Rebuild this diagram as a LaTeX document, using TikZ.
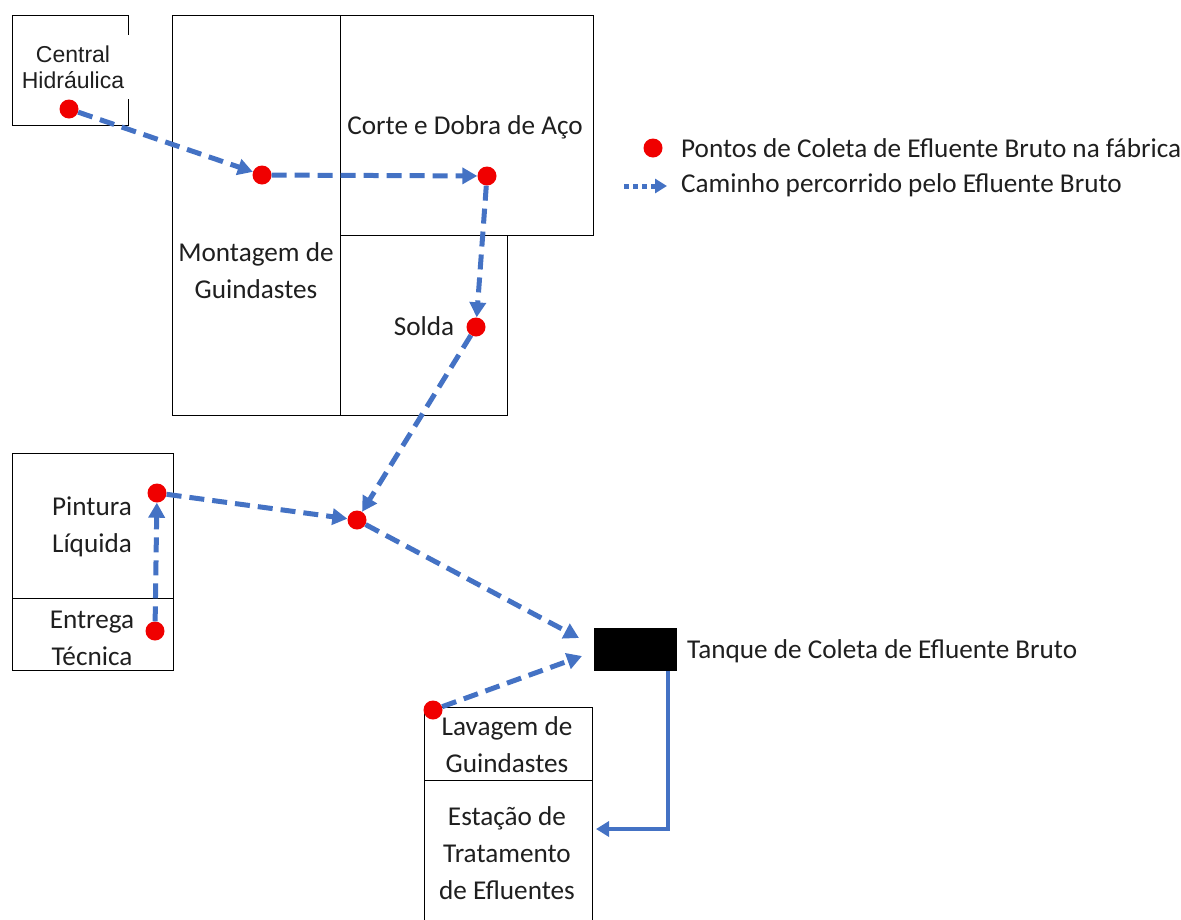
\documentclass[tikz,border=0pt]{standalone}
\usepackage{fontspec}
\setmainfont{Carlito}
\newfontfamily\arialfont{Liberation Sans}
\usetikzlibrary{arrows.meta}
\definecolor{flowblue}{RGB}{68,114,196}
\definecolor{dotred}{RGB}{240,0,0}

\begin{document}
\begin{tikzpicture}[x=1pt,y=-1pt,
  room/.style={draw=black,line width=1.4pt,anchor=north west,inner sep=0pt},
  lbl/.style={font=\fontsize{27.2}{37}\selectfont,align=center,inner sep=0pt,text=black!88},
  pt/.style={circle,fill=dotred,minimum size=19pt,inner sep=0pt},
  flow/.style={draw=flowblue,line width=5pt,dash pattern=on 15pt off 8pt,
    -{Triangle[length=15pt,width=16pt]}},
  pipe/.style={draw=flowblue,line width=4pt,-{Triangle[length=13pt,width=15pt]}}]

\useasboundingbox (0,0) rectangle (1181,919);
\clip (0,0) rectangle (1181,919);

% rooms of the plant
\node[room,minimum width=116pt,minimum height=110pt] (central) at (12,15) {};
\node[room,minimum width=168pt,minimum height=400pt] (montagem) at (172,15) {};
\node[room,minimum width=253pt,minimum height=220pt] (corte) at (340,15) {};
\node[room,minimum width=167pt,minimum height=180pt] (solda) at (340,235) {};
\node[room,minimum width=161pt,minimum height=145pt] (pintura) at (12,453) {};
\node[room,minimum width=161pt,minimum height=72pt] (entrega) at (12,598) {};
\node[room,minimum width=168pt,minimum height=73pt] (lavagem) at (424,707) {};
\node[room,minimum width=168pt,minimum height=170pt] (estacao) at (424,780) {};

% room names
\node[font=\arialfont\fontsize{23}{26}\selectfont,align=center,fill=white,
  inner xsep=6pt,inner ysep=0pt,minimum height=64pt,text=black!88] (tcentral) at (73,67) {Central\\Hidráulica};
\node[lbl] (tcorte) at (465,127) {Corte e Dobra de Aço};
\node[lbl] (tmontagem) at (256,271) {Montagem de\\Guindastes};
\node[lbl] (tsolda) at (424,326) {Solda};
\node[lbl] (tpintura) at (92,527) {Pintura\\Líquida};
\node[lbl] (tentrega) at (92,638) {Entrega\\Técnica};
\node[lbl] (tlavagem) at (507,745) {Lavagem de\\Guindastes};
\node[lbl] (testacao) at (507,853) {Estação de\\Tratamento\\de Efluentes};

% collection tank
\node[fill=black,minimum width=83pt,minimum height=43pt,inner sep=0pt,anchor=north west] (tank) at (594,628) {};
\node[lbl,anchor=west] (ttank) at (687,651) {Tanque de Coleta de Efluente Bruto};

% legend
\node[pt] (legdot) at (653,148) {};
\node[lbl,anchor=west] (tlegdot) at (681,148) {Pontos de Coleta de Efluente Bruto na fábrica};
\coordinate (la) at (624,186);
\coordinate (lb) at (667,186);
\draw[flow,dash pattern=on 5pt off 4pt,-{Triangle[length=12pt,width=14pt]}] (la) -- (lb);
\node[lbl,anchor=west] (tlegflow) at (681,185) {Caminho percorrido pelo Efluente Bruto};

% collection points
\node[pt] (p1) at (69,109) {};
\node[pt] (p2) at (262,175) {};
\node[pt] (p3) at (487,176) {};
\node[pt] (p4) at (476,327) {};
\node[pt] (p5) at (157,493) {};
\node[pt] (p6) at (357,520) {};
\node[pt] (p7) at (155,631) {};
\node[pt] (p8) at (433,710) {};

% effluent path
\coordinate (t1) at (579,638);
\coordinate (t2) at (582,656);
\coordinate (pin) at (596,829);
\draw[flow] (p1) -- (p2);
\draw[flow] (p2) -- (p3);
\draw[flow] (p3) -- (p4);
\draw[flow] (p4) -- (p6);
\draw[flow] (p5) -- (p6);
\draw[flow] (p7) -- (p5);
\draw[flow] (p6) -- (t1);
\draw[flow] (p8) -- (t2);
\draw[pipe] ([xshift=-9pt]tank.south east) |- (pin);
\end{tikzpicture}
\end{document}
